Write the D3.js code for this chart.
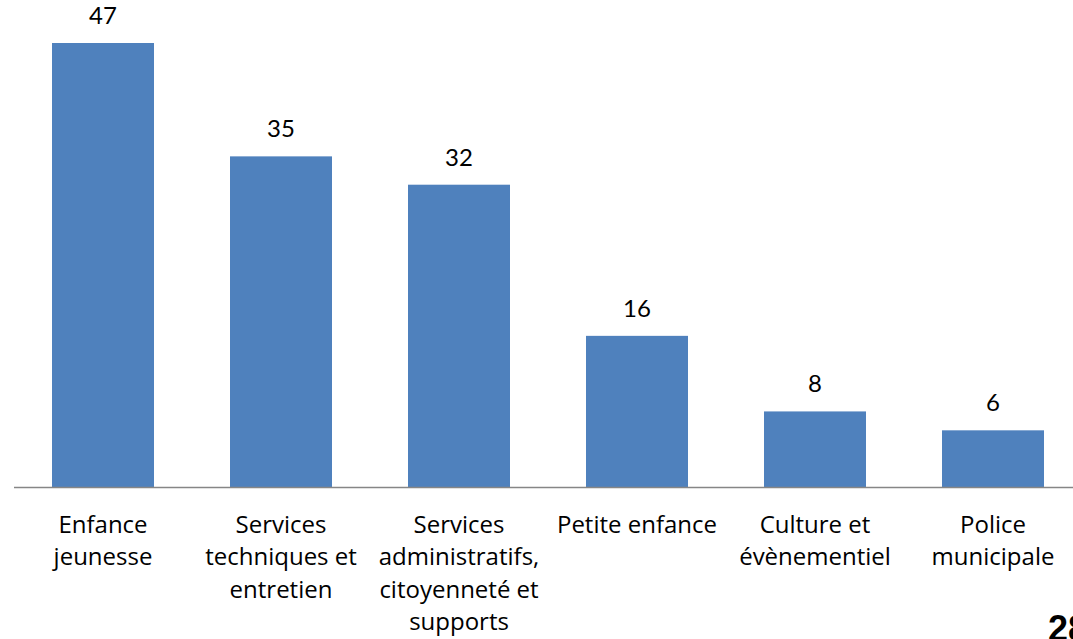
<!DOCTYPE html>
<html>
<head>
<meta charset="utf-8">
<script src="https://cdn.jsdelivr.net/npm/d3@7"></script>
<style>
  html, body { margin: 0; padding: 0; background: #fff; overflow: hidden; }
  svg { display: block; }
</style>
</head>
<body>
<svg id="chart" width="1073" height="639"></svg>
<script>
// Effectifs par direction
const categories = [
  ["Enfance", "jeunesse"],
  ["Services", "techniques et", "entretien"],
  ["Services", "administratifs,", "citoyenneté et", "supports"],
  ["Petite enfance"],
  ["Culture et", "évènementiel"],
  ["Police", "municipale"]
];
const values = [47, 35, 32, 16, 8, 6];
const pageNumber = "28";

const W = 1073, H = 639;
const svg = d3.select("#chart");
const font = "'Open Sans', sans-serif";
const numFont = "Lato, 'Open Sans', sans-serif";
const fontSize = 24;

const keys = categories.map(c => c.join(" "));
const x = d3.scaleBand()
  .domain(keys)
  .range([14, 1082])
  .paddingInner(0.427)
  .paddingOuter(0.2135);

const y = d3.scaleLinear().domain([0, 47]).range([487, 43]);

// bars
svg.append("g").selectAll("rect")
  .data(values)
  .join("rect")
  .attr("x", (d, i) => x(keys[i]))
  .attr("width", x.bandwidth())
  .attr("y", d => y(d))
  .attr("height", d => y(0) - y(d))
  .attr("fill", "#4F81BD");

// value labels
svg.append("g").selectAll("text")
  .data(values)
  .join("text")
  .attr("x", (d, i) => x(keys[i]) + x.bandwidth() / 2)
  .attr("y", d => y(d) - 19)
  .attr("text-anchor", "middle")
  .attr("font-family", numFont)
  .attr("font-size", 24)
  .attr("fill", "#000")
  .text(d => d);

// baseline axis
const axis = d3.axisBottom(x).tickSize(0).tickFormat("");
const gAxis = svg.append("g").attr("transform", `translate(0,${y(0)})`).call(axis);
gAxis.select(".domain").attr("stroke", "#868686").attr("stroke-width", 1.5)
  .attr("d", `M14,0.5H${W}`);

// category labels
const lab = svg.append("g").selectAll("text")
  .data(categories)
  .join("text")
  .attr("text-anchor", "middle")
  .attr("font-family", font)
  .attr("font-size", fontSize)
  .attr("fill", "#000")
  .attr("transform", (d, i) => `translate(${x(keys[i]) + x.bandwidth() / 2},533)`);
lab.selectAll("tspan")
  .data(d => d)
  .join("tspan")
  .attr("x", 0)
  .attr("y", (d, j) => j * 32.3)
  .text(d => d);

// page number
svg.append("text")
  .attr("x", 1048)
  .attr("y", 641)
  .attr("font-family", "'Liberation Sans', Arial, sans-serif")
  .attr("font-weight", "bold")
  .attr("font-size", 36)
  .attr("fill", "#000")
  .text(pageNumber);
</script>
</body>
</html>
